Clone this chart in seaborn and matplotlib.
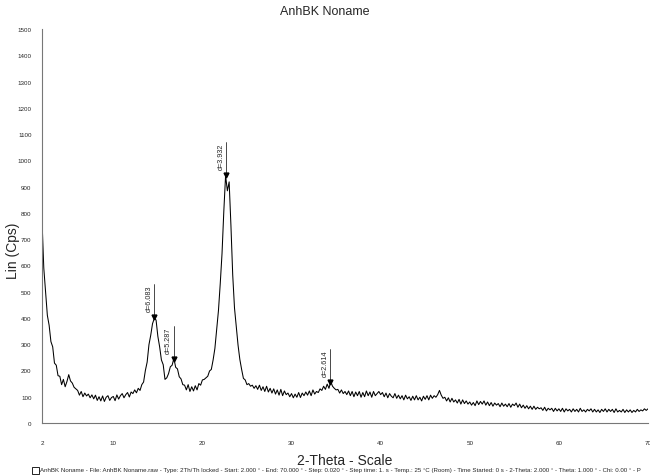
import numpy as np
import pandas as pd
import matplotlib
matplotlib.use("Agg")
import matplotlib.pyplot as plt
import seaborn as sns
from matplotlib.patches import Rectangle
from matplotlib.ticker import MultipleLocator, FixedLocator

# ---- data ----
theta_start, theta_end, theta_step = 2.0, 70.0, 0.2
counts = [
    772, 590, 500, 410, 372, 310, 290, 228, 220, 180,
    178, 146, 166, 138, 158, 184, 160, 152, 136, 130,
    124, 106, 120, 100, 114, 103, 110, 96, 107, 92,
    106, 86, 100, 84, 103, 82, 98, 104, 86, 97,
    101, 85, 107, 91, 104, 112, 96, 108, 116, 99,
    118, 112, 126, 115, 132, 124, 146, 156, 200, 232,
    298, 334, 378, 398, 392, 330, 290, 240, 222, 166,
    172, 188, 214, 220, 246, 212, 206, 176, 168, 146,
    144, 126, 146, 120, 138, 122, 142, 126, 150, 144,
    164, 166, 172, 178, 198, 204, 240, 284, 356, 428,
    530, 645, 805, 942, 884, 918, 752, 564, 438, 366,
    296, 242, 204, 170, 164, 146, 150, 140, 144, 132,
    142, 128, 144, 124, 138, 120, 140, 118, 132, 114,
    130, 110, 126, 106, 128, 104, 122, 108, 114, 100,
    112, 96, 110, 98, 116, 97, 114, 104, 118, 106,
    122, 104, 126, 110, 120, 116, 130, 124, 140, 128,
    148, 132, 158, 140, 132, 126, 128, 114, 126, 112,
    120, 108, 122, 104, 120, 100, 118, 104, 120, 98,
    116, 100, 122, 104, 118, 98, 120, 104, 112, 120,
    108, 116, 100, 114, 96, 112, 102, 96, 112, 94,
    106, 92, 104, 88, 106, 92, 100, 86, 102, 88,
    104, 88, 98, 84, 102, 90, 104, 88, 106, 94,
    104, 98, 108, 124, 106, 94, 98, 84, 96, 80,
    94, 80, 88, 76, 90, 72, 88, 74, 84, 72,
    80, 68, 78, 66, 84, 70, 82, 72, 84, 68,
    80, 66, 78, 64, 76, 68, 74, 62, 76, 64,
    72, 62, 74, 60, 72, 66, 76, 60, 72, 58,
    68, 56, 66, 54, 64, 52, 64, 52, 60, 54,
    58, 48, 60, 46, 56, 50, 56, 44, 56, 46,
    54, 44, 56, 42, 54, 46, 52, 42, 54, 44,
    52, 42, 56, 44, 50, 42, 52, 46, 54, 42,
    52, 42, 50, 40, 52, 44, 54, 42, 52, 44,
    52, 40, 54, 42, 48, 42, 52, 40, 50, 42,
    50, 40, 48, 42, 52, 44, 50, 46, 54, 48,
    54,
]
two_theta = np.round(theta_start + theta_step * np.arange(len(counts)), 2)

peak_pos = [14.55, 16.76, 22.62, 34.28]
peak_cps = [405, 243, 945, 156]
peak_labels = ["d=6.083", "d=5.287", "d=3.932", "d=2.614"]

x_ticks = [2, 10, 20, 30, 40, 50, 60, 70]
y_ticks = list(range(0, 1501, 100))

title = "AnhBK Noname"
xlabel = "2-Theta - Scale"
ylabel = "Lin (Cps)"
footer = ("AnhBK Noname - File: AnhBK Noname.raw - Type: 2Th/Th locked - Start: 2.000 \u00b0 - "
          "End: 70.000 \u00b0 - Step: 0.020 \u00b0 - Step time: 1. s - Temp.: 25 \u00b0C (Room) - "
          "Time Started: 0 s - 2-Theta: 2.000 \u00b0 - Theta: 1.000 \u00b0 - Chi: 0.00 \u00b0 - P")

df = pd.DataFrame({"two_theta": two_theta, "cps": counts})

# ---- plot ----
sns.set_style("white")
plt.rcParams["font.family"] = ["Liberation Sans", "DejaVu Sans"]

fig = plt.figure(figsize=(6.5, 4.77), dpi=100)
ax = fig.add_axes([42 / 650, 1 - 424 / 477, (648 - 42) / 650, (424 - 30) / 477])

sns.lineplot(data=df, x="two_theta", y="cps", ax=ax, color="black", linewidth=0.75)

ax.set_xlim(theta_start, theta_end)
ax.set_ylim(0, 1500)
ax.xaxis.set_major_locator(FixedLocator(x_ticks))
ax.xaxis.set_minor_locator(MultipleLocator(1))
ax.yaxis.set_major_locator(FixedLocator(y_ticks))
ax.yaxis.set_minor_locator(MultipleLocator(50))
ax.tick_params(axis="x", which="major", direction="out", length=5, width=0.6,
               labelsize=4.5, color="#555555", pad=7)
ax.tick_params(axis="y", which="major", direction="out", length=5, width=0.6,
               labelsize=4.5, color="#555555", pad=2.5)
ax.tick_params(axis="both", which="minor", direction="out", length=3, width=0.6, color="#555555")
ax.set_xticklabels([str(t) for t in x_ticks])

for s in ["top", "right"]:
    ax.spines[s].set_visible(False)
for s in ["left", "bottom"]:
    ax.spines[s].set_color("#777777")
    ax.spines[s].set_linewidth(0.8)

ax.set_xlabel(xlabel, fontsize=10)
ax.set_ylabel(ylabel, fontsize=10)
ax.xaxis.set_label_coords(0.5, -0.075)
ax.yaxis.set_label_coords(-0.037, 0.44)

# peak markers
for px, py, lab in zip(peak_pos, peak_cps, peak_labels):
    ax.plot([px, px], [py, py + 125], color="black", linewidth=0.5)
    ax.plot([px], [py], marker="v", color="black", markersize=3.5, linestyle="none")
    ax.text(px - 0.15, py + 22, lab, rotation=90, ha="right", va="bottom", fontsize=5.2)

fig.text(325 / 650, 1 - 12 / 477, title, ha="center", va="center", fontsize=9)
fig.text(40 / 650, 1 - 471 / 477, footer, ha="left", va="center", fontsize=4.4)
fig.patches.append(Rectangle((32 / 650, 1 - 475 / 477), 7 / 650, 7 / 477,
                             transform=fig.transFigure, fill=False, edgecolor="black",
                             linewidth=0.6))

fig.savefig("out.png", dpi=100)
